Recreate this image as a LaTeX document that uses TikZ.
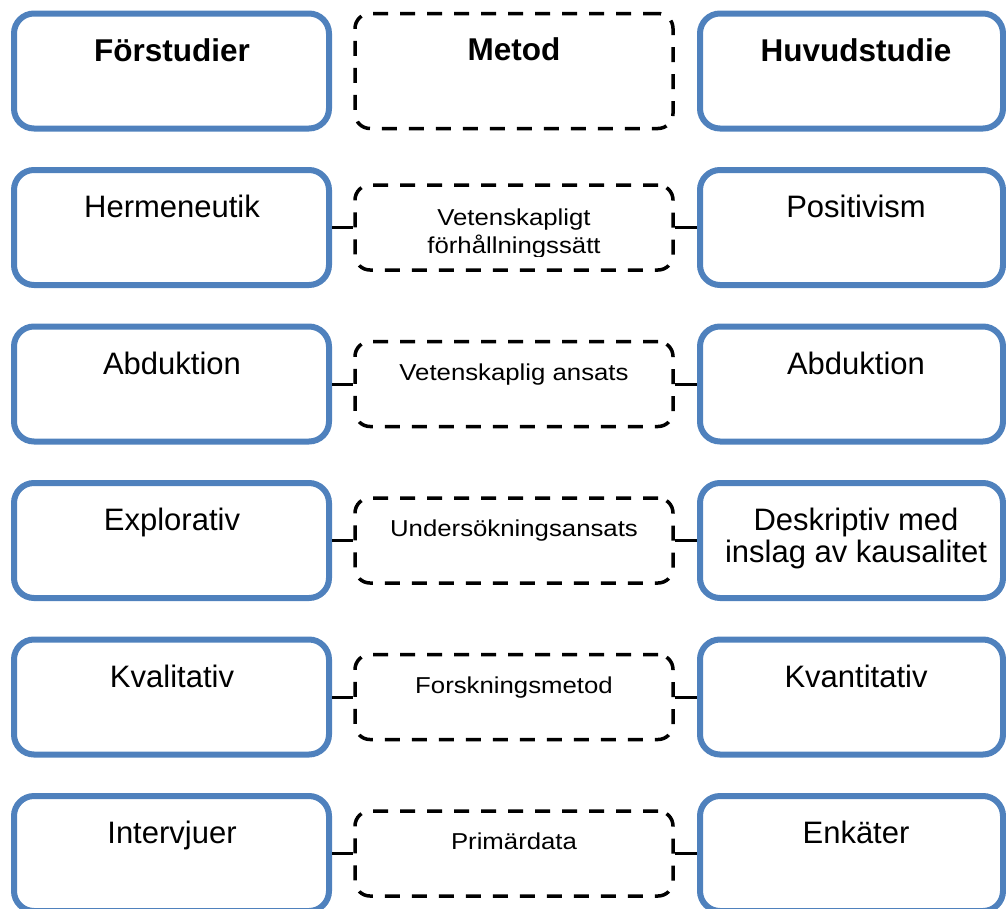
\documentclass[tikz,border=0pt]{standalone}
\usepackage{fontspec}
\setmainfont{Liberation Sans}
\newfontfamily\midfont[FakeStretch=1.12]{Liberation Sans}
\usetikzlibrary{calc}
\definecolor{boxblue}{HTML}{4F81BD}
\tikzset{
  sidebox/.style={draw=boxblue, line width=6pt, rounded corners=20pt,
    minimum width=315pt, minimum height=115pt, inner sep=0pt},
  rightbox/.style={sidebox, minimum width=303pt},
  methodbox/.style={draw=black, line width=3.5pt, dash pattern=on 15pt off 12pt,
    rounded corners=15pt, minimum width=318pt, minimum height=85pt, inner sep=0pt},
  headbox/.style={methodbox, minimum height=115pt},
  sidetext/.style={anchor=base, inner sep=0pt, font=\fontsize{31}{32}\selectfont, align=center},
  headtext/.style={anchor=base, inner sep=0pt, font=\fontsize{31.5}{32}\selectfont\bfseries},
  midtext/.style={anchor=base, inner sep=0pt, font=\midfont\fontsize{23}{28}\selectfont, align=center},
  link/.style={draw=black, line width=3pt},
}
\begin{document}
\begin{tikzpicture}[x=1pt,y=-1pt]
\useasboundingbox (0,0) rectangle (1006,908);
\clip (0,0) rectangle (1006,908);

% column headings
\node[sidebox]  (L1) at (171.5,71) {};
\node[headbox]  (M1) at (514,71) {};
\node[rightbox] (R1) at (851.5,71) {};
\node[headtext] (L1t) at (172,61) {Förstudier};
\node[headtext] (M1t) at (514,60) {Metod};
\node[headtext] (R1t) at (856,61) {Huvudstudie};

% rows: pre-study -- method -- main study
\foreach \k/\c in {2/227.5,3/384,4/540.5,5/697,6/853.5}{
  \node[sidebox]   (L\k) at (171.5,\c) {};
  \node[methodbox] (M\k) at (514,\c) {};
  \node[rightbox]  (R\k) at (851.5,\c) {};
  \draw[link] (L\k.east) -- (M\k.west);
  \draw[link] (M\k.east) -- (R\k.west);
}

% row 2 (two-line labels are placed by the baseline of their last line)
\node[sidetext] (L2t) at (172,217.5) {Hermeneutik};
\node[sidetext] (R2t) at (856,217.5) {Positivism};
\begin{scope}
  \clip (355,185) rectangle (673,256.5);
  \node[midtext] (M2t) at (514,253) {Vetenskapligt\\förhållningssätt};
\end{scope}

% row 3
\node[sidetext] (L3t) at (172,374) {Abduktion};
\node[sidetext] (R3t) at (856,374) {Abduktion};
\node[midtext]  (M3t) at (514,380) {Vetenskaplig ansats};

% row 4
\node[sidetext] (L4t) at (172,530.5) {Explorativ};
\node[sidetext] (R4t) at (856,562) {Deskriptiv med\\inslag av kausalitet};
\node[midtext]  (M4t) at (514,536.5) {Undersökningsansats};

% row 5
\node[sidetext] (L5t) at (172,687) {Kvalitativ};
\node[sidetext] (R5t) at (856,687) {Kvantitativ};
\node[midtext]  (M5t) at (514,693) {Forskningsmetod};

% row 6
\node[sidetext] (L6t) at (172,843.5) {Intervjuer};
\node[sidetext] (R6t) at (856,843.5) {Enkäter};
\node[midtext]  (M6t) at (514,849) {Primärdata};
\end{tikzpicture}
\end{document}
